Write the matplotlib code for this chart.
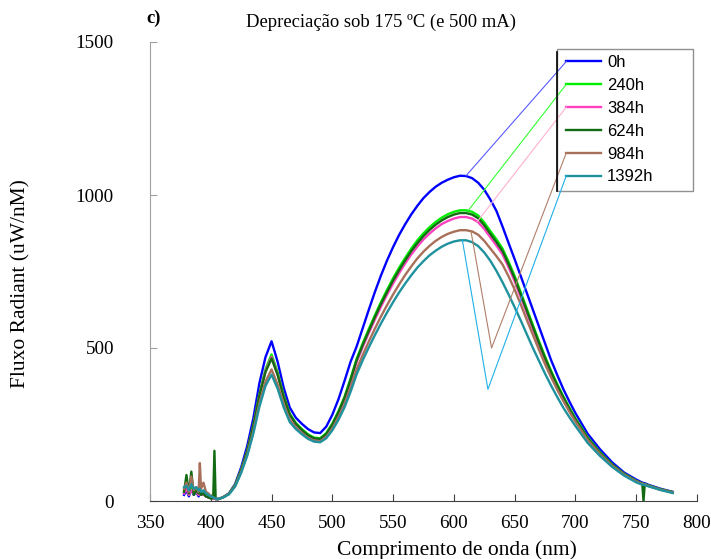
import matplotlib
matplotlib.use("Agg")
import matplotlib.pyplot as plt
from matplotlib.lines import Line2D
from matplotlib.patches import Rectangle
from matplotlib.transforms import IdentityTransform

plt.rcParams['font.family'] = ['Liberation Serif', 'DejaVu Serif']

# wavelength grid (nm)
wl = [378, 380, 382, 384, 386, 388, 390, 391, 392, 394, 396, 398, 400, 402, 403, 404, 406,
      410, 415, 420, 425, 430, 435, 440, 445, 450, 455, 460, 465, 470, 475, 480, 485, 490, 495,
      500, 505, 510, 515, 520, 525, 530, 535, 540, 545, 550, 555, 560, 565, 570, 575, 580, 585,
      590, 595, 600, 605, 610, 615, 620, 625, 630, 635, 640, 645, 650, 655, 660, 665, 670, 675,
      680, 685, 690, 695, 700,
      710, 720, 730, 740, 750, 755, 756, 757, 760, 770, 780]

labels = ['0h', '240h', '384h', '624h', '984h', '1392h']
colors = ['#0000ff', '#00ee00', '#ff3fbf', '#126b12', '#a8705a', '#1f929e']
conn_colors = ['#5a5aff', '#33ff33', '#ffb0d0', '#126b12', '#b07e68', '#1fb0e8']

flux_0h = [20, 35, 15, 40, 20, 30, 15, 25, 20, 25, 15, 12, 10, 8, 8, 6, 6,
           12, 25, 55, 110, 180, 270, 385, 470, 522, 455, 370, 305, 272, 252, 235, 224, 222, 243,
           282, 332, 392, 455, 505, 565, 625, 683, 737, 786, 830, 870, 905, 937, 965, 990, 1010, 1027,
           1040, 1050, 1058, 1063, 1062, 1055, 1040, 1017, 985, 948, 897, 843, 790, 735, 680, 625, 570, 515,
           460, 412, 366, 325, 287,
           220, 170, 127, 93, 70, 60, 59, 58, 53, 40, 30]
flux_240h = [30, 55, 20, 45, 25, 35, 20, 30, 25, 20, 18, 14, 10, 8, 10, 6, 6,
             12, 24, 52, 102, 165, 248, 350, 430, 479, 420, 345, 285, 255, 235, 218, 207, 205, 222,
             253, 293, 340, 400, 465, 515, 562, 607, 650, 690, 728, 763, 795, 825, 852, 875, 895, 912,
             926, 937, 945, 950, 950, 945, 933, 910, 882, 855, 825, 782, 735, 682, 628, 575, 522, 472,
             425, 382, 342, 305, 270,
             208, 160, 120, 89, 66, 57, 56, 55, 51, 38, 29]
flux_384h = [25, 40, 20, 35, 25, 30, 20, 25, 20, 22, 15, 12, 10, 8, 8, 6, 6,
             12, 24, 51, 100, 162, 244, 345, 424, 471, 413, 339, 280, 250, 230, 213, 202, 200, 216,
             247, 286, 332, 391, 454, 503, 549, 593, 635, 674, 711, 745, 777, 806, 832, 855, 874, 891,
             905, 915, 923, 928, 928, 923, 911, 889, 862, 835, 806, 764, 718, 666, 614, 562, 510, 461,
             415, 373, 334, 298, 264,
             203, 156, 117, 87, 64, 56, 55, 54, 50, 37, 28]
flux_624h = [30, 85, 25, 96, 20, 35, 25, 30, 20, 25, 15, 12, 8, 10, 164, 8, 6,
             12, 24, 52, 101, 163, 245, 345, 421, 466, 412, 340, 282, 252, 232, 215, 205, 203, 219,
             250, 290, 337, 396, 460, 510, 556, 601, 644, 683, 721, 755, 787, 817, 843, 866, 886, 903,
             917, 928, 936, 941, 941, 936, 924, 901, 873, 846, 817, 774, 728, 675, 622, 569, 517, 467,
             421, 378, 339, 302, 267,
             206, 158, 119, 88, 65, 56, 0, 55, 50, 38, 29]
flux_984h = [40, 60, 30, 80, 35, 45, 30, 124, 40, 60, 30, 25, 15, 12, 10, 8, 7,
             12, 23, 49, 95, 153, 228, 320, 390, 430, 380, 316, 265, 240, 222, 206, 197, 195, 209,
             237, 273, 316, 370, 430, 477, 521, 563, 603, 640, 675, 708, 739, 767, 793, 815, 834, 850,
             863, 873, 880, 885, 885, 881, 870, 850, 825, 800, 773, 734, 691, 642, 592, 543, 494, 447,
             404, 364, 327, 292, 259,
             200, 154, 116, 86, 64, 55, 55, 54, 49, 37, 28]
flux_1392h = [45, 50, 35, 55, 40, 45, 35, 40, 30, 35, 25, 20, 15, 12, 10, 8, 7,
              11, 22, 47, 92, 148, 220, 308, 376, 413, 367, 306, 258, 235, 218, 203, 194, 192, 205,
              231, 265, 306, 357, 414, 460, 502, 542, 580, 616, 650, 682, 711, 738, 763, 784, 803, 818,
              831, 841, 848, 852, 852, 846, 833, 812, 785, 752, 715, 675, 633, 590, 545, 500, 458, 416,
              377, 340, 305, 274, 245,
              190, 148, 112, 83, 61, 53, 53, 52, 48, 36, 26]
series = [flux_0h, flux_240h, flux_384h, flux_624h, flux_984h, flux_1392h]

# stray segments from the curves to the legend entries (nm, uW/nM)
conn_x = [[610], [612], [619], [], [614, 631], [607, 628]]
conn_y = [[1063], [950], [912], [], [883, 500], [852, 365]]

fig = plt.figure(figsize=(7.11, 5.59), dpi=100)
ax = fig.add_axes([150 / 711, 58 / 559, 547 / 711, 459 / 559])

lines = []
for s, c, lab in zip(series, colors, labels):
    assert len(s) == len(wl)
    ln, = ax.plot(wl, s, color=c, lw=1.7, label=lab)
    lines.append(ln)

ax.set_xlim(350, 800)
ax.set_ylim(0, 1500)
ax.set_xticks([350, 400, 450, 500, 550, 600, 650, 700, 750, 800])
ax.set_yticks([0, 500, 1000, 1500])
for side in ['top', 'right']:
    ax.spines[side].set_visible(False)
ax.spines['left'].set_color('#a0a0a0')
ax.spines['bottom'].set_color('#404040')
ax.tick_params(axis='x', direction='in', length=5, color='#404040', pad=10, labelsize=13.8)
ax.tick_params(axis='y', direction='in', length=5, color='#a0a0a0', pad=26, labelsize=13.8)

ax.set_xlabel('Comprimento de onda (nm)', fontsize=15.5)
ax.xaxis.set_label_coords(0.561, -0.086)
ax.set_ylabel('Fluxo Radiant (uW/nM)', fontsize=15.5)
ax.yaxis.set_label_coords(-0.218, 0.473)

fig.text(381 / 711, 1 - 22 / 559, 'Depreciação sob 175 ºC (e 500 mA)', ha='center', va='center', fontsize=13.4)
fig.text(154 / 711, 1 - 18 / 559, 'c)', ha='center', va='center', fontsize=13.4, fontweight='bold')

# legend box (wider than the entries, as in the source figure)
ax.add_patch(Rectangle((0.744, 0.675), 0.249, 0.310, transform=ax.transAxes,
                       facecolor='white', edgecolor='#909090', lw=1.0, zorder=4.8, clip_on=False))
leg = ax.legend(lines, labels, loc='upper left', bbox_to_anchor=(0.752, 0.982),
                frameon=False, prop={'family': 'Liberation Sans', 'size': 12},
                handlelength=2.1, handletextpad=0.35, labelspacing=0.47,
                borderpad=0.3, borderaxespad=0)
leg.set_zorder(5)

fig.canvas.draw()
renderer = fig.canvas.get_renderer()
inv = ax.transData.inverted()
for hl, cx, cy, cc in zip(leg.get_lines(), conn_x, conn_y, conn_colors):
    if not cx:
        continue
    bb = hl.get_window_extent(renderer)
    ex, ey = inv.transform((bb.x0, (bb.y0 + bb.y1) / 2))
    ax.plot(cx + [ex], cy + [ey], color=cc, lw=0.8, zorder=6, clip_on=False)

x_left = ax.transAxes.transform((0.744, 0.675))
x_top = ax.transAxes.transform((0.744, 0.985))
fig.add_artist(Line2D([x_left[0], x_left[0]], [x_left[1], x_top[1] - 3], transform=IdentityTransform(),
                      color='black', lw=1.2, zorder=7))

fig.savefig('out.png', dpi=100)
